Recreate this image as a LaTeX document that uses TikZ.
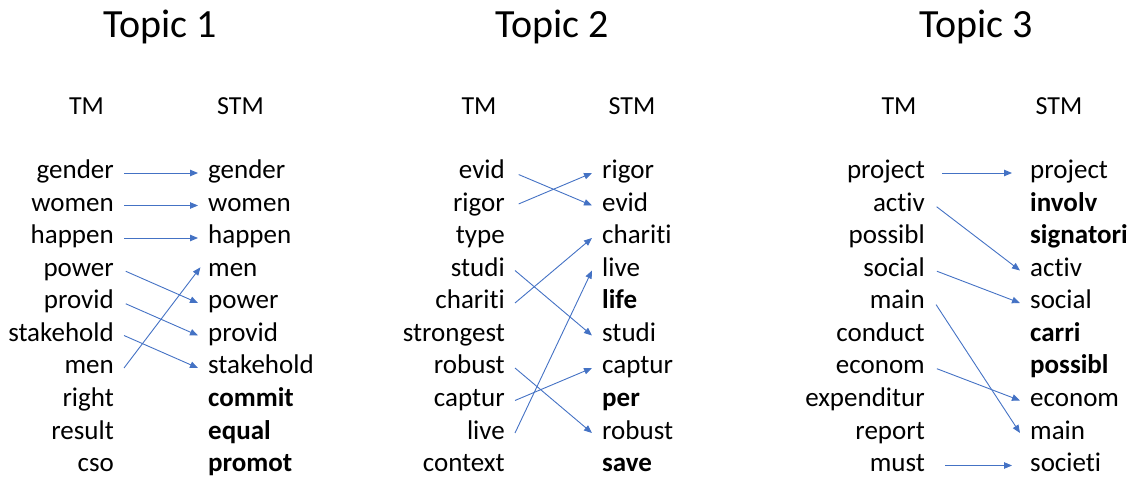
\documentclass[tikz,border=0pt]{standalone}
\usepackage{fontspec}
\setmainfont[Ligatures={NoCommon}]{Carlito}
\usetikzlibrary{arrows.meta}
\definecolor{arrowblue}{HTML}{4472C4}
\begin{document}
\begin{tikzpicture}[x=1pt,y=-1pt,
  word/.style={font=\fontsize{27}{30}\selectfont, text height=12pt, text depth=0pt, inner ysep=0pt, inner xsep=10pt},
  lword/.style={word, anchor=base east},
  rword/.style={word, anchor=base west},
  title/.style={font=\fontsize{40}{44}\selectfont, anchor=base, inner sep=0pt},
  head/.style={font=\fontsize{26}{28}\selectfont, anchor=base, inner sep=0pt},
  conn/.style={draw=arrowblue, line width=0.9pt, -{Triangle[length=8pt,width=6.5pt]}, fill=none}
]
\useasboundingbox (0,0) rectangle (1128,478);

% titles and headers
\node[title] (title1) at (160,38) {Topic 1};
\node[title] (title2) at (552,38) {Topic 2};
\node[title] (title3) at (976,38) {Topic 3};
\node[head] (tm1) at (86.5,115) {TM};
\node[head] (stm1) at (240.5,115) {STM};
\node[head] (tm2) at (479,115) {TM};
\node[head] (stm2) at (632,115) {STM};
\node[head] (tm3) at (899,115) {TM};
\node[head] (stm3) at (1059,115) {STM};

% Topic 1
\foreach \w [count=\i] in {gender,women,happen,power,provid,stakehold,men,right,result,cso}
  \node[lword] (a\i) at (124,146.5+32.5*\i) {\w};
\foreach \w [count=\i] in {gender,women,happen,men,power,provid,stakehold,{\textbf{commit}},{\textbf{equal}},{\textbf{promot}}}
  \node[rword] (b\i) at (198,146.5+32.5*\i) {\w};

% Topic 2
\foreach \w [count=\i] in {evid,rigor,type,studi,chariti,strongest,robust,captur,live,context}
  \node[lword] (c\i) at (515,146.5+32.5*\i) {\w};
\foreach \w [count=\i] in {rigor,evid,chariti,live,{\textbf{life}},studi,captur,{\textbf{per}},robust,{\textbf{save}}}
  \node[rword] (d\i) at (592,146.5+32.5*\i) {\w};

% Topic 3
\foreach \w [count=\i] in {project,activ,possibl,social,main,conduct,econom,expenditur,report,must}
  \node[lword] (e\i) at (935,146.5+32.5*\i) {\w};
\foreach \w [count=\i] in {project,{\textbf{involv}},{\textbf{signatori}},activ,social,{\textbf{carri}},{\textbf{possibl}},econom,main,societi}
  \node[rword] (f\i) at (1020,146.5+32.5*\i) {\w};

% connectors Topic 1
\draw[conn] (a1.east) -- (b1.west);
\draw[conn] (a2.east) -- (b2.west);
\draw[conn] (a3.east) -- (b3.west);
\draw[conn, shorten <=2pt] (a4.east) -- (b5.west);
\draw[conn, shorten <=2pt] (a5.east) -- (b6.west);
\draw[conn] (a6.east) -- (b7.west);
\draw[conn, shorten >=-4pt] (a7.east) -- (b4.west);

% connectors Topic 2
\draw[conn, shorten <=4pt] (c1.east) -- (d2.west);
\draw[conn, shorten <=4pt] (c2.east) -- (d1.west);
\draw[conn] (c4.east) -- (d6.west);
\draw[conn] (c5.east) -- (d3.west);
\draw[conn] (c7.east) -- (d9.west);
\draw[conn] (c8.east) -- (d7.west);
\draw[conn] (c9.east) -- (d4.west);

% connectors Topic 3
\draw[conn, shorten <=7pt, shorten >=8pt] (e1.east) -- (f1.west);
\draw[conn, shorten <=2pt] (e2.east) -- (f4.west);
\draw[conn, shorten <=2pt] (e4.east) -- (f5.west);
\draw[conn, shorten <=2pt] (e5.east) -- (f9.west);
\draw[conn, shorten <=2pt] (e7.east) -- (f8.west);
\draw[conn, shorten <=10pt, shorten >=8pt] (e10.east) -- (f10.west);
\end{tikzpicture}
\end{document}
